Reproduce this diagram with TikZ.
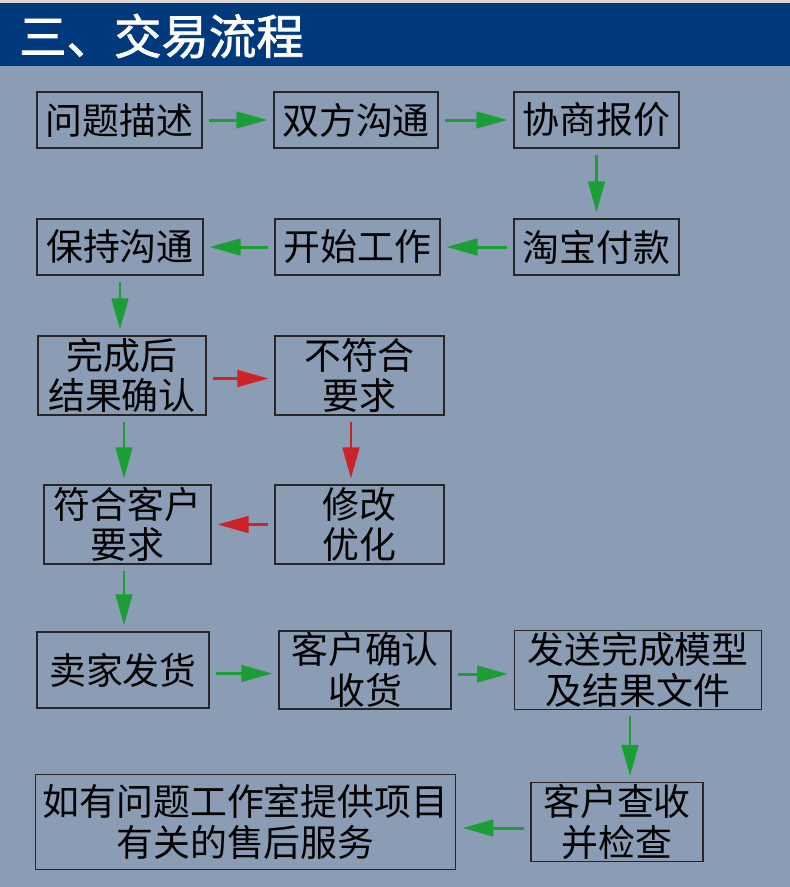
\documentclass[tikz,border=0pt]{standalone}
\usepackage{fontspec}
\setmainfont{Noto Sans CJK SC}
\newfontfamily\headfont[FakeBold=1.6]{Noto Sans CJK SC}
\usetikzlibrary{arrows.meta}

\definecolor{pagebg}{HTML}{8A9DB5}
\definecolor{headbar}{HTML}{003A7D}
\definecolor{okgreen}{HTML}{1C9E36}
\definecolor{badred}{HTML}{CC2228}

\tikzset{
  stepbox/.style={draw=black!85, line width=0.6pt, align=center, inner sep=0pt,
    font=\fontsize{21pt}{23pt}\selectfont},
  flow/.style={line width=1.7pt, shorten <=0.12cm, shorten >=0.12cm,
    -{Triangle[length=0.62cm,width=0.33cm]}},
  goarrow/.style={flow, draw=okgreen, okgreen},
  backarrow/.style={flow, draw=badred, badred}
}

\begin{document}
\begin{tikzpicture}[x=0.02cm, y=-0.02cm]
    \useasboundingbox (0,0) rectangle (790,887);
    \fill[pagebg] (0,0) rectangle (790,887);
    \fill[black!15] (0,0) rectangle (790,3);
    \fill[headbar] (0,3) rectangle (790,66);
    \node[anchor=west, text=white, font=\headfont\fontsize{27pt}{30pt}\selectfont] (title) at (13,36)
      {三、交易流程};

    % first rows
    \node[stepbox, minimum width=3.3cm, minimum height=1.12cm] (wenti) at (119.5,120) {问题描述};
    \node[stepbox, minimum width=3.28cm, minimum height=1.12cm] (shuangfang) at (356,120) {双方沟通};
    \node[stepbox, minimum width=3.3cm, minimum height=1.12cm] (xieshang) at (596.5,120) {协商报价};
    \node[stepbox, minimum width=3.3cm, minimum height=1.12cm] (taobao) at (596.5,247) {淘宝付款};
    \node[stepbox, minimum width=3.3cm, minimum height=1.12cm] (kaishi) at (357.5,247) {开始工作};
    \node[stepbox, minimum width=3.32cm, minimum height=1.12cm] (baochi) at (120,247) {保持沟通};

    % checking the result
    \node[stepbox, minimum width=3.36cm, minimum height=1.58cm] (wancheng) at (122,375.5) {完成后\\结果确认};
    \node[stepbox, minimum width=3.38cm, minimum height=1.58cm] (buhe) at (359.5,375.5) {不符合\\要求};
    \node[stepbox, minimum width=3.38cm, minimum height=1.58cm] (xiugai) at (359.5,524.5) {修改\\优化};
    \node[stepbox, minimum width=3.34cm, minimum height=1.58cm] (fuhe) at (127.5,524.5) {符合客户\\要求};

    % delivery
    \node[stepbox, minimum width=3.44cm, minimum height=1.52cm] (maijia) at (123,670) {卖家发货};
    \node[stepbox, minimum width=3.44cm, minimum height=1.56cm] (queren) at (365,670) {客户确认\\收货};
    \node[stepbox, minimum width=4.94cm, minimum height=1.58cm] (fasong) at (638,670) {发送完成模型\\及结果文件};
    \node[stepbox, minimum width=3.44cm, minimum height=1.58cm] (chashou) at (617,822) {客户查收\\并检查};
    \node[stepbox, minimum width=8.42cm, minimum height=1.9cm] (shouhou) at (245.5,822)
      {如有问题工作室提供项目\\有关的售后服务};

    \draw[goarrow] (wenti) -- (shuangfang);
    \draw[goarrow] (shuangfang) -- (xieshang);
    \draw[goarrow] (xieshang) -- (taobao);
    \draw[goarrow] (taobao) -- (kaishi);
    \draw[goarrow] (kaishi) -- (baochi);
    \draw[goarrow] (baochi.south) -- (baochi.south |- wancheng.north);
    \draw[backarrow] ([yshift=-0.06cm]wancheng.east) -- ([yshift=-0.06cm]buhe.west);
    \draw[goarrow] ([xshift=0.04cm]wancheng.south) -- ([xshift=0.04cm]wancheng.south |- fuhe.north);
    \draw[backarrow] ([xshift=-0.17cm]buhe.south) -- ([xshift=-0.17cm]xiugai.north);
    \draw[backarrow] (xiugai) -- (fuhe);
    \draw[goarrow] ([xshift=-0.07cm]fuhe.south) -- ([xshift=-0.07cm]fuhe.south |- maijia.north);
    \draw[goarrow] ([yshift=-0.07cm]maijia.east) -- ([yshift=-0.07cm]queren.west);
    \draw[goarrow] ([yshift=-0.08cm]queren.east) -- ([yshift=-0.08cm]fasong.west);
    \draw[goarrow] ([xshift=-0.16cm]fasong.south) -- ([xshift=-0.16cm]fasong.south |- chashou.north);
    \draw[goarrow] ([yshift=-0.12cm]chashou.west) -- ([yshift=-0.12cm]shouhou.east);
  \end{tikzpicture}
\end{document}
